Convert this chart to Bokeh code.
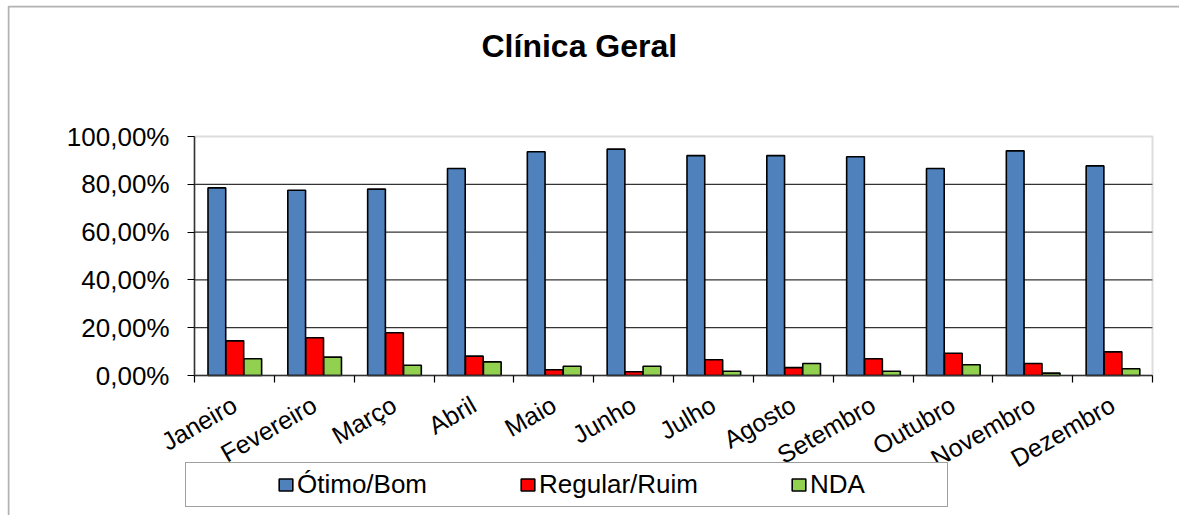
from bokeh.plotting import figure
from bokeh.models import (Range1d, FixedTicker, Legend, LegendItem, ColumnDataSource,
                          Label, BoxAnnotation)
from bokeh.transform import dodge
from bokeh.embed import file_html
from bokeh.resources import INLINE
import math

# ---------------- data ----------------
months = ["Janeiro", "Fevereiro", "Março", "Abril", "Maio", "Junho",
          "Julho", "Agosto", "Setembro", "Outubro", "Novembro", "Dezembro"]
otimo_bom = [78.5, 77.5, 78.0, 86.6, 93.6, 94.7, 92.0, 92.0, 91.5, 86.6, 94.0, 87.7]
regular_ruim = [14.5, 15.8, 17.9, 8.1, 2.4, 1.6, 6.6, 3.3, 7.0, 9.3, 5.0, 9.9]
nda = [7.0, 7.7, 4.3, 5.7, 3.9, 3.9, 1.8, 5.0, 1.8, 4.5, 1.0, 2.8]
series_names = ["Ótimo/Bom", "Regular/Ruim", "NDA"]
series_colors = ["#4F81BD", "#FF0000", "#92D050"]
y_ticks = [0, 20, 40, 60, 80, 100]
y_tick_labels = ["0,00%", "20,00%", "40,00%", "60,00%", "80,00%", "100,00%"]
title_text = "Clínica Geral"

FONT = "Liberation Sans"

# ---------------- geometry (pixels) ----------------
CANVAS_W, CANVAS_H = 1172, 510      # figure placed at page (7, 5)
AREA_TOP = 131                      # plot area top (canvas px) = 100 %
AREA_L, AREA_R = 187, 1145          # plot area left/right (canvas px)
AREA_H = 239                        # plot area height (px) for 0..100
n = len(months)
ppx = (AREA_R - AREA_L) / n
x_start = -AREA_L / ppx
x_end = n + (CANVAS_W - AREA_R) / ppx
ppy = AREA_H / 100.0
y_end = 100 + AREA_TOP / ppy
y_start = y_end - CANVAS_H / ppy

centers = [i + 0.5 for i in range(n)]
source = ColumnDataSource(dict(x=centers, month=months, a=otimo_bom,
                               b=regular_ruim, c=nda))

p = figure(width=CANVAS_W, height=CANVAS_H, output_backend="svg",
           toolbar_location=None,
           x_range=Range1d(x_start, x_end), y_range=Range1d(y_start, y_end),
           min_border=0)
p.margin = (5, 0, 0, 7)
p.title.visible = False
p.background_fill_color = "white"
p.border_fill_color = "white"
p.outline_line_color = None
p.xgrid.visible = False
p.ygrid.visible = False

# outer chart frame: only its left and top edges fall inside the window
p.add_layout(BoxAnnotation(left=1, right=CANVAS_W + 50, top=CANVAS_H - 1,
                           bottom=-50, left_units="screen", right_units="screen",
                           top_units="screen", bottom_units="screen",
                           fill_color=None, fill_alpha=0, line_color="black",
                           line_width=2, level="underlay"))

# title
p.add_layout(Label(x=474, y=CANVAS_H - 40, x_units="screen", y_units="screen",
                   text=title_text, text_align="left",
                   text_baseline="alphabetic", text_font=FONT,
                   text_font_style="bold", text_font_size="32px",
                   text_color="black"))

# plot-area border and horizontal grid lines
p.add_layout(BoxAnnotation(left=0, right=n, bottom=0, top=100,
                           fill_color=None, fill_alpha=0, line_color="#8c8c8c",
                           line_width=2, level="underlay"))
grid_y = [t for t in y_ticks if 0 < t < 100]
p.segment(x0=[0] * len(grid_y), x1=[n] * len(grid_y), y0=grid_y, y1=grid_y,
          line_color="#333333", line_width=1.2, level="underlay")

w = 0.222
offsets = [-0.22, 0.005, 0.23]
renderers = []
for col, off, color in zip(["a", "b", "c"], offsets, series_colors):
    r = p.vbar(x=dodge("x", off, range=p.x_range), top=col, width=w, bottom=0,
               source=source, fill_color=color, line_color="black",
               line_width=1.6)
    renderers.append(r)

# x axis at y = 0: labels at centres, tick marks between categories
xa = p.xaxis[0]
xa.fixed_location = 0
xa.bounds = (0, n)
xa.ticker = FixedTicker(ticks=centers, minor_ticks=list(range(n + 1)))
xa.major_label_overrides = {c: m for c, m in zip(centers, months)}
xa.major_tick_line_color = None
xa.minor_tick_line_color = "black"
xa.minor_tick_out = 7
xa.minor_tick_in = 0
xa.minor_tick_line_width = 1.2
xa.axis_line_color = "#333333"
xa.axis_line_width = 1.5
xa.major_label_orientation = math.radians(30)
xa.major_label_text_font = FONT
xa.major_label_text_font_size = "25px"
xa.major_label_text_color = "black"
xa.major_label_standoff = 20

# y axis at x = 0
ya = p.yaxis[0]
ya.fixed_location = 0
ya.bounds = (0, 100)
ya.ticker = FixedTicker(ticks=y_ticks)
ya.major_label_overrides = {t: l for t, l in zip(y_ticks, y_tick_labels)}
ya.minor_tick_line_color = None
ya.major_tick_out = 7
ya.major_tick_in = 0
ya.major_tick_line_color = "black"
ya.major_tick_line_width = 1.2
ya.axis_line_color = "#333333"
ya.axis_line_width = 1.5
ya.major_label_text_font = FONT
ya.major_label_text_font_size = "26px"
ya.major_label_text_color = "black"
ya.major_label_standoff = 18

# legend: bottom edge at page y 507 -> 8 px above the frame bottom (page 515)
legend = Legend(items=[LegendItem(label=s, renderers=[r])
                       for s, r in zip(series_names, renderers)],
                location=(178, 8), orientation="horizontal",
                margin=0, spacing=92, label_standoff=3,
                glyph_width=17, glyph_height=15,
                label_text_font=FONT, label_text_font_size="26px",
                label_text_color="black",
                border_line_color="#404040", border_line_width=1.5,
                background_fill_color="white", background_fill_alpha=1)
try:
    legend.padding = (91, 82, 6, 6)
except Exception:
    legend.padding = 6
p.add_layout(legend, "center")

open("out.html", "w").write(file_html(p, INLINE))
